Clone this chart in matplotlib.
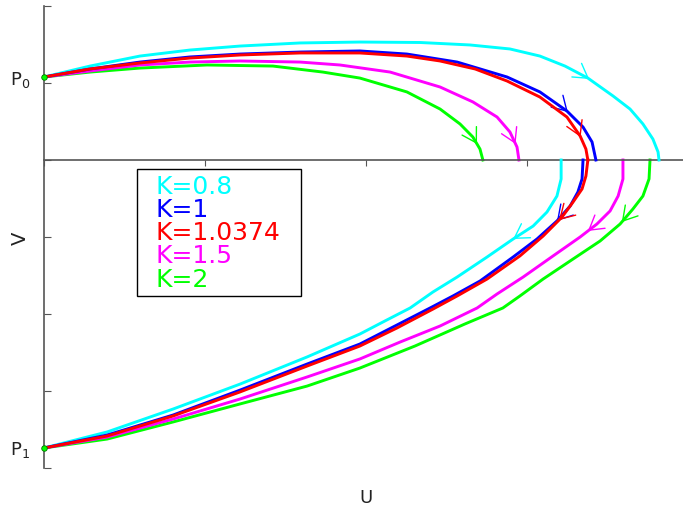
import matplotlib
matplotlib.use("Agg")
import matplotlib.pyplot as plt
from matplotlib.patches import Rectangle

# -- DATA (U, V) -- #
labels = ['K=0.8', 'K=1', 'K=1.0374', 'K=1.5', 'K=2']
colors = ['#00ffff', '#0000ff', '#ff0000', '#ff00ff', '#00ff00']

p0 = (0.0, 0.539)
p1 = (0.0, -1.870)

# upper branches: from P0 to the U axis
cyan_up_u = [0, 0.143, 0.298, 0.453, 0.609, 0.795, 0.981, 1.168, 1.323, 1.447, 1.540, 1.618,
             1.689, 1.767, 1.820, 1.860, 1.891, 1.907, 1.910]
cyan_up_v = [0.539, 0.610, 0.675, 0.714, 0.740, 0.760, 0.766, 0.763, 0.747, 0.721, 0.675, 0.610,
             0.532, 0.416, 0.331, 0.234, 0.136, 0.052, 0.0]
blue_up_u = [0, 0.143, 0.298, 0.453, 0.609, 0.795, 0.981, 1.127, 1.283, 1.438, 1.540, 1.624,
             1.674, 1.702, 1.714]
blue_up_v = [0.539, 0.591, 0.636, 0.669, 0.688, 0.701, 0.708, 0.688, 0.636, 0.539, 0.442, 0.318,
             0.214, 0.117, 0.0]
red_up_u = [0, 0.143, 0.298, 0.453, 0.609, 0.795, 0.981, 1.127, 1.230, 1.339, 1.438, 1.540,
            1.624, 1.665, 1.683, 1.689]
red_up_v = [0.539, 0.591, 0.630, 0.662, 0.682, 0.695, 0.695, 0.675, 0.643, 0.591, 0.513, 0.409,
            0.279, 0.156, 0.071, 0.0]
mag_up_u = [0, 0.143, 0.298, 0.453, 0.609, 0.795, 0.919, 1.075, 1.230, 1.332, 1.407, 1.447,
            1.469, 1.475]
mag_up_v = [0.539, 0.578, 0.617, 0.636, 0.643, 0.636, 0.617, 0.571, 0.474, 0.377, 0.279, 0.182,
            0.084, 0.0]
grn_up_u = [0, 0.143, 0.298, 0.506, 0.711, 0.866, 0.981, 1.127, 1.230, 1.292, 1.332, 1.354, 1.363]
grn_up_v = [0.539, 0.571, 0.597, 0.617, 0.610, 0.571, 0.532, 0.442, 0.331, 0.234, 0.149, 0.071, 0.0]

# lower branches: from the U axis down to P1
cyan_lo_u = [1.606, 1.606, 1.593, 1.562, 1.519, 1.457, 1.376, 1.283, 1.208, 1.137, 1.059, 0.981,
             0.817, 0.609, 0.401, 0.196, 0]
cyan_lo_v = [0, -0.123, -0.234, -0.338, -0.429, -0.513, -0.630, -0.760, -0.857, -0.961, -1.045,
             -1.130, -1.279, -1.455, -1.617, -1.766, -1.870]
blue_lo_u = [1.674, 1.671, 1.658, 1.634, 1.593, 1.531, 1.457, 1.354, 1.270, 1.199, 1.090, 0.981,
             0.817, 0.609, 0.401, 0.196, 0]
blue_lo_v = [0, -0.123, -0.208, -0.299, -0.396, -0.513, -0.630, -0.786, -0.883, -0.961, -1.078,
             -1.195, -1.325, -1.494, -1.656, -1.786, -1.870]
red_lo_u = [1.689, 1.683, 1.671, 1.643, 1.609, 1.550, 1.478, 1.376, 1.283, 1.208, 1.096, 0.981,
            0.817, 0.609, 0.401, 0.196, 0]
red_lo_v = [0, -0.104, -0.188, -0.273, -0.370, -0.494, -0.623, -0.773, -0.883, -0.968, -1.091,
            -1.208, -1.338, -1.506, -1.662, -1.792, -1.870]
mag_lo_u = [1.798, 1.798, 1.783, 1.758, 1.717, 1.665, 1.581, 1.488, 1.407, 1.345, 1.230, 1.106,
            0.981, 0.817, 0.609, 0.401, 0.196, 0]
mag_lo_v = [0, -0.123, -0.234, -0.331, -0.416, -0.500, -0.623, -0.760, -0.870, -0.961, -1.078,
            -1.182, -1.292, -1.409, -1.552, -1.682, -1.799, -1.870]
grn_lo_u = [1.882, 1.879, 1.860, 1.829, 1.789, 1.727, 1.643, 1.550, 1.478, 1.425, 1.307, 1.152,
            0.981, 0.817, 0.609, 0.401, 0.196, 0]
grn_lo_v = [0, -0.123, -0.234, -0.318, -0.416, -0.526, -0.643, -0.773, -0.883, -0.961, -1.065,
            -1.208, -1.351, -1.468, -1.584, -1.701, -1.812, -1.870]

# V where the direction arrow sits on each branch
arrow_up_v = [0.526, 0.312, 0.149, 0.104, 0.104]
arrow_lo_v = [-0.513, -0.396, -0.39, -0.461, -0.403]

upper = [(cyan_up_u, cyan_up_v), (blue_up_u, blue_up_v), (red_up_u, red_up_v),
         (mag_up_u, mag_up_v), (grn_up_u, grn_up_v)]
lower = [(cyan_lo_u, cyan_lo_v), (blue_lo_u, blue_lo_v), (red_lo_u, red_lo_v),
         (mag_lo_u, mag_lo_v), (grn_lo_u, grn_lo_v)]
zorders = [3, 4, 5, 2, 1]

axis_col = '#555555'


def add_arrow(ax, u, v, v_tip, color, z):
    # open arrow head where the branch crosses v_tip, pointing along the flow
    for i in range(len(u) - 1):
        if (v[i] - v_tip) * (v[i + 1] - v_tip) <= 0 and v[i] != v[i + 1]:
            t = (v_tip - v[i]) / (v[i + 1] - v[i])
            tip = (u[i] + t * (u[i + 1] - u[i]), v_tip)
            ax.annotate('', xy=tip, xytext=(u[i], v[i]),
                        arrowprops=dict(arrowstyle='->,head_length=0.5,head_width=0.3',
                                        color=color, lw=1, shrinkA=0, shrinkB=0,
                                        mutation_scale=20), zorder=z)
            return


fig = plt.figure(figsize=(6.83, 5.06), dpi=100)
ax = fig.add_axes([44 / 683, 37 / 506, 639 / 683, 462 / 506])

for k in range(len(labels)):
    for (u, v), va in ((upper[k], arrow_up_v[k]), (lower[k], arrow_lo_v[k])):
        ax.plot(u, v, color=colors[k], lw=2.1, zorder=zorders[k], clip_on=False,
                solid_joinstyle='round')
        add_arrow(ax, u, v, va, colors[k], zorders[k])

ax.plot([p0[0], p1[0]], [p0[1], p1[1]], 'o', ls='none', ms=4, mfc='#00ff00',
        mec='#007700', mew=0.6, zorder=10, clip_on=False)

ax.set_xlim(0, 639 / 322)
ax.set_ylim(-2.0, 1.0)
ax.spines['top'].set_visible(False)
ax.spines['right'].set_visible(False)
ax.spines['bottom'].set_position(('data', 0))
for s in ('left', 'bottom'):
    ax.spines[s].set_color(axis_col)
    ax.spines[s].set_linewidth(1.2)
ax.set_xticks([0, 0.5, 1.0, 1.5])
ax.set_yticks([-2, -1.5, -1, -0.5, 0, 0.5, 1])
ax.tick_params(axis='x', direction='out', length=4, color=axis_col, labelbottom=False)
ax.tick_params(axis='y', direction='in', length=5, color=axis_col, labelleft=False)

# point labels
ax.annotate('P$_0$', xy=p0, xytext=(-10, -5), textcoords='offset points',
            ha='right', va='baseline', fontsize=13, color='#222222')
ax.annotate('P$_1$', xy=p1, xytext=(-10, -4.5), textcoords='offset points',
            ha='right', va='baseline', fontsize=13, color='#222222')

fig.text(366 / 683, 1 - 503 / 506, 'U', ha='center', va='baseline', fontsize=13, color='#222222')
fig.text(20 / 683, 1 - 238 / 506, 'V', ha='center', va='center', rotation=90,
         fontsize=14, color='#222222')

# legend box with coloured labels
fig.patches.append(Rectangle((137 / 683, 1 - 297 / 506), 164 / 683, 127 / 506,
                             transform=fig.transFigure, fill=True, fc='white',
                             ec='black', lw=1, zorder=20))
baselines = [194, 217, 240, 263, 287]
for lab, col, yb in zip(labels, colors, baselines):
    fig.text(156 / 683, 1 - yb / 506, lab, color=col, fontsize=18, va='baseline', zorder=21)

fig.savefig('out.png', dpi=100)
